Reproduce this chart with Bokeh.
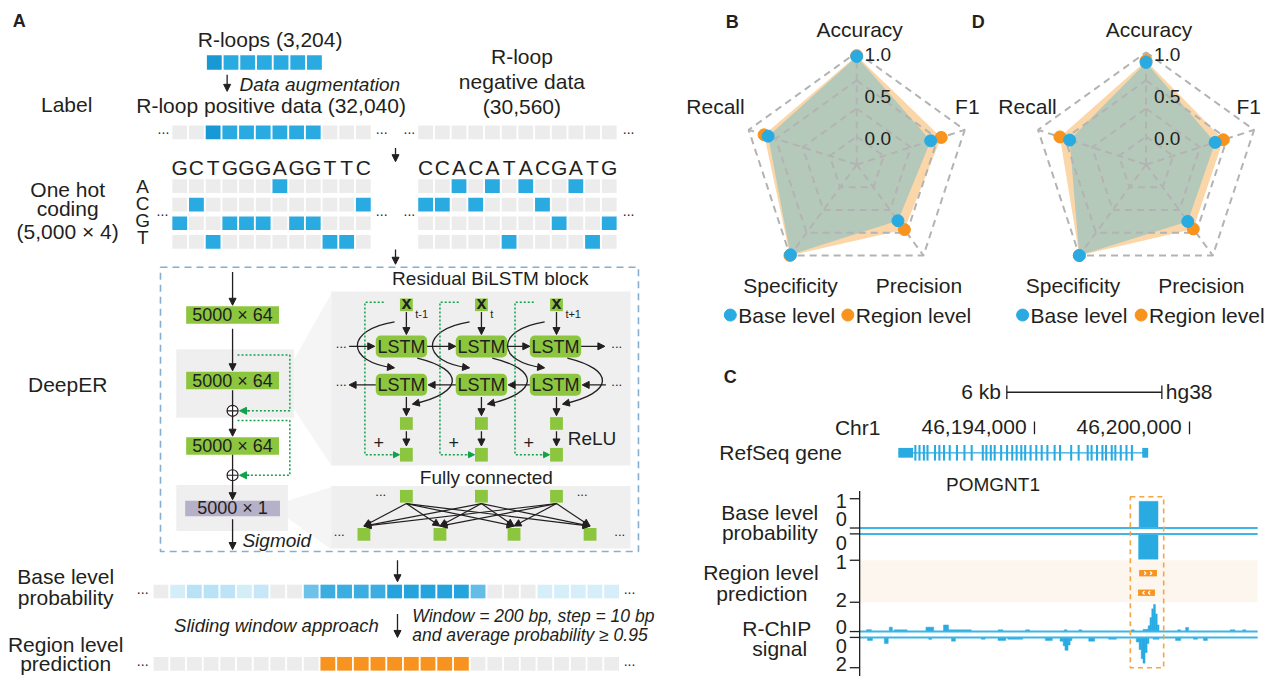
import numpy as np
from bokeh.plotting import figure
from bokeh.models import Range1d, Arrow, NormalHead, ColumnDataSource
from bokeh.core.properties import value
from bokeh.embed import file_html
from bokeh.resources import INLINE

# ======================= DATA =======================
rloop_n = 3204
pos_n = 32040
neg_n = 30560
rloop_row = [1, 1, 1, 1, 1, 1, 1]
pos_label = [0, 0, 1, 1, 1, 1, 1, 1, 1, 0, 0, 0]
neg_label = [0] * 12
pos_seq = "GCTGGGAGGTTC"
neg_seq = "CCACATACGATG"
bases = ["A", "C", "G", "T"]
layer_dims = ["5000 × 64", "5000 × 64", "5000 × 64", "5000 × 1"]
time_steps = ["t-1", "t", "t+1"]
base_prob = [0, .08, .22, .22, .2, .08, .15, 0, 0, .6, .85, .85, .85, .85,
             .97, .97, .97, .97, .97, .65, 0, 0, 0, .07, .07, .07, .07, .07]
region_pred = [0] * 10 + [1] * 9 + [0] * 9

metrics = ["Accuracy", "F1", "Precision", "Specificity", "Recall"]
b_base = [0.95, 0.58, 0.49, 0.99, 0.76]
b_region = [0.96, 0.71, 0.62, 1.00, 0.81]
d_base = [0.88, 0.52, 0.50, 1.00, 0.61]
d_region = [0.90, 0.62, 0.61, 1.00, 0.73]
radar_ticks = [0.0, 0.5, 1.0]

view_start, view_end = 46187235, 46202637
chr_ticks = [46194000, 46200000]
scale_start, scale_kb = 46192930, 6
gene_name = "POMGNT1"
gene_span = (46188730, 46198400)
gene_ends = [(46188730, 46189300), (46198170, 46198400)]
exon_mid = [46189390, 46189550, 46189720, 46189860, 46190150, 46190320, 46190500,
            46190720, 46191000, 46191290, 46191570, 46192000, 46192140, 46192310,
            46192460, 46192710, 46192940, 46193140, 46193310, 46193490, 46193640,
            46193850, 46194070, 46194280, 46194500, 46194780, 46194990, 46195420,
            46195710, 46196060, 46196210, 46196420, 46196630, 46196770, 46196990,
            46197130, 46197340, 46197560, 46197770]
prob_plus = [(46198050, 46198780, 0.91)]
prob_minus = [(46198030, 46198780, 0.96)]
pred_plus = [(46198050, 46198740)]
pred_minus = [(46198010, 46198660)]
highlight = (46197710, 46199000)
chip_plus = [
    (46187500, 46187690, 0.13), (46188380, 46188500, 0.30), (46188570, 46189070, 0.12),
    (46189800, 46190100, 0.30), (46190480, 46190670, 0.45), (46190670, 46191550, 0.12),
    (46192590, 46192780, 0.12), (46193660, 46193810, 0.12), (46195150, 46195260, 0.12),
    (46195720, 46195830, 0.12), (46197750, 46197860, 0.12), (46198200, 46198400, 0.15),
    (46198400, 46198470, 0.40), (46198470, 46198540, 0.95), (46198540, 46198610, 1.55),
    (46198610, 46198680, 1.85), (46198680, 46198750, 1.20), (46198750, 46198820, 0.45),
    (46199540, 46199660, 0.12), (46199850, 46199960, 0.28), (46201570, 46201760, 0.12),
    (46202060, 46202180, 0.12)]
chip_minus = [
    (46187540, 46187730, 0.20), (46188190, 46188340, 0.40), (46189910, 46190020, 0.13),
    (46190790, 46190940, 0.25), (46191940, 46192090, 0.12), (46192590, 46192890, 0.20),
    (46192970, 46193540, 0.12), (46194420, 46194690, 0.20), (46194990, 46195110, 0.25),
    (46195110, 46195180, 0.55), (46195180, 46195300, 0.85), (46195300, 46195380, 0.50),
    (46195380, 46195450, 0.20), (46196100, 46196330, 0.25), (46196870, 46197170, 0.12),
    (46197940, 46198050, 0.30), (46198050, 46198130, 0.80), (46198130, 46198200, 1.40),
    (46198200, 46198280, 1.70), (46198280, 46198360, 1.00), (46198360, 46198430, 0.40),
    (46198590, 46198820, 0.12), (46199460, 46199660, 0.20), (46200150, 46200310, 0.12),
    (46200540, 46200690, 0.20)]

# ======================= STYLE =======================
FONT = "Liberation Sans"
INK = "#231f20"
BLUE = "#29abe2"
DBLUE = "#1898d5"
ORANGE = "#f7931e"
SQGRAY = "#ececec"
GREEN = "#8cc63f"
DGREEN = "#12a14b"
PANEL = "#efefef"

XMAX, YMAX = 1285, 692
p = figure(width=1269, height=676, x_range=Range1d(0, XMAX), y_range=Range1d(YMAX, 0),
           toolbar_location=None, output_backend="svg", min_border=0)
p.axis.visible = False
p.grid.visible = False
p.outline_line_color = None


def T(x, y, s, size=21, align="center", style="normal", color=INK, baseline="middle"):
    p.text(x=[x], y=[y], text=[s], text_font=value(FONT), text_font_size=value(f"{size}px"),
           text_font_style=style, text_align=align, text_baseline=baseline, text_color=color)


def arrows(segs, color=INK, width=1.3, head=7):
    src = ColumnDataSource(dict(x0=[s[0] for s in segs], y0=[s[1] for s in segs],
                                x1=[s[2] for s in segs], y1=[s[3] for s in segs]))
    p.add_layout(Arrow(end=NormalHead(size=head, fill_color=color, line_color=color, line_width=1),
                       x_start="x0", y_start="y0", x_end="x1", y_end="y1", source=src,
                       line_color=color, line_width=width))


PITCH, SQ = 16.9, 15.0


def squares(x0, ytop, colors, h=14.0):
    xs = [x0 + i * PITCH for i in range(len(colors))]
    p.quad(left=xs, right=[x + SQ for x in xs], top=[ytop] * len(xs), bottom=[ytop + h] * len(xs),
           fill_color=colors, line_color=None)


def label_colors(row):
    out = []
    for i, v in enumerate(row):
        if v:
            out.append(DBLUE if (i == 0 or not row[i - 1]) else BLUE)
        else:
            out.append(SQGRAY)
    return out


def prob_color(v):
    if v == 0:
        return SQGRAY
    lo, hi = np.array([228, 244, 252]), np.array([30, 160, 220])
    c = lo + (hi - lo) * v
    return "#%02x%02x%02x" % tuple(int(round(t)) for t in c)


def dots(x, y, size=14):
    T(x, y - 3, "...", size=size, align="center")

# ======================= PANEL A =======================
T(19, 21, "A", size=18, style="bold")
T(273, 40, f"R-loops ({rloop_n:,})")
squares(209, 56, label_colors(rloop_row), h=15)
arrows([(229.5, 76, 229.5, 93)])
T(242, 86, "Data augmentation", size=19, align="left", style="italic")
T(67, 106, "Label")
T(274, 107, f"R-loop positive data ({pos_n:,})")
T(528, 57, "R-loop")
T(528, 83, "negative data")
T(528, 108, f"({neg_n:,})")

POS_X0, NEG_X0 = 174, 423
squares(POS_X0, 128, label_colors(pos_label))
squares(NEG_X0, 128, label_colors(neg_label))
for xx in (165, 386, 414, 636):
    dots(xx, 135)
arrows([(400, 151, 400, 165)])

for x0, seq in ((POS_X0, pos_seq), (NEG_X0, neg_seq)):
    for i, ch in enumerate(seq):
        T(x0 + i * PITCH + SQ / 2, 171, ch, size=21)
    for r, b in enumerate(bases):
        squares(x0, 183 + 19 * r, [BLUE if ch == b else SQGRAY for ch in seq])
for b, yy in zip(bases, (190, 207.5, 225, 243)):
    T(144, yy, b, size=19)
for xx in (164, 386, 414, 636):
    dots(xx, 218)
T(68, 193, "One hot")
T(68, 213, "coding")
T(68, 236, "(5,000 × 4)")
arrows([(400, 255, 400, 270)])

# ---- DeepER box ----
T(68, 393, "DeepER")
p.patch([297, 335, 335, 297], [368, 300, 476, 418], fill_color="#e2e2e2", fill_alpha=0.35, line_color=None)
p.patch([291, 335, 335, 291], [512, 498, 562, 530], fill_color="#e2e2e2", fill_alpha=0.35, line_color=None)
p.quad(left=[178], right=[297], top=[357], bottom=[427], fill_color=PANEL, line_color=None)
p.quad(left=[178], right=[291], top=[496], bottom=[543], fill_color=PANEL, line_color=None)
p.quad(left=[335], right=[638], top=[298], bottom=[476], fill_color=PANEL, line_color=None)
p.quad(left=[335], right=[638], top=[497], bottom=[561], fill_color=PANEL, line_color=None)
p.quad(left=[162], right=[646], top=[273], bottom=[564], fill_color=None,
       line_color="#86aed0", line_dash="7 5", line_width=1.6)

COLX = 235
box_tops = [313, 380, 447, 512]
for k, (yt, dim) in enumerate(zip(box_tops, layer_dims)):
    last = k == len(layer_dims) - 1
    p.quad(left=[188 if not last else 187], right=[282 if not last else 283], top=[yt],
           bottom=[yt + (18 if not last else 16)], fill_color="#b6b1c9" if last else GREEN,
           line_color=None)
    T(COLX, yt + (9 if not last else 8), dim, size=18)
arrows([(COLX, 278, COLX, 312), (COLX, 336, COLX, 379), (COLX, 425, COLX, 446),
        (COLX, 491, COLX, 511), (COLX, 531, COLX, 562)])
p.segment(x0=[COLX, COLX], y0=[399, 465], x1=[COLX, COLX], y1=[415, 481], line_color=INK, line_width=1.3)
p.scatter([COLX, COLX], [420, 486], marker="circle_cross", size=11, fill_color="white",
          line_color=INK, line_width=1.2)
for ya, yb in ((363, 420), (430, 486)):
    p.line([240, 293, 293, 250], [ya, ya, yb, yb], line_color=DGREEN, line_dash="2 2", line_width=1.5)
    arrows([(252, yb, 242, yb)], color=DGREEN, head=7)
T(245, 553, "Sigmoid", size=19, align="left", style="italic")

# ---- Residual BiLSTM block ----
T(496, 285, "Residual BiLSTM block", size=19)
cxn = [411, 487, 563]
cxb = [406, 487, 562]
p.rect(cxn, [311.5] * 3, 13, 13, fill_color=GREEN, line_color=None)
for c, ts in zip(cxn, time_steps):
    T(c, 310, "x", size=18, style="bold")
    T(c + 9, 321, ts, size=11, align="left")
for row_top in (343, 382):
    p.quad(left=[c - 26 for c in cxb], right=[c + 26 for c in cxb], top=[row_top] * 3,
           bottom=[row_top + 22.5] * 3, fill_color=GREEN, line_color=None, border_radius=5)
    for c in cxb:
        T(c, row_top + 11.5, "LSTM", size=18)
segs = [(c, 319, c, 342) for c in cxn]
segs += [(353, 354, 379, 354), (432, 354, 461, 354), (513, 354, 536, 354), (588, 354, 612, 354)]
segs += [(380, 393.5, 353, 393.5), (461, 393.5, 433, 393.5), (536, 393.5, 514, 393.5), (613, 393.5, 589, 393.5)]
segs += [(c, 406, c, 425) for c in cxn] + [(c, 441, c, 456) for c in cxn]
arrows(segs, head=7)
for xx, yy in ((345, 354), (345, 393.5), (624, 354), (624, 393.5)):
    dots(xx, yy, 13)
# curved connections
p.bezier(x0=[c - 12 for c in cxn], y0=[329] * 3, x1=[c - 13 for c in cxn], y1=[376] * 3,
         cx0=[c - 62 for c in cxn], cy0=[337] * 3, cx1=[c - 62 for c in cxn], cy1=[370] * 3,
         line_color=INK, line_width=1.3)
p.bezier(x0=[c + 11 for c in cxn], y0=[366] * 3, x1=[c + 7 for c in cxn], y1=[413] * 3,
         cx0=[c + 60 for c in cxn], cy0=[378] * 3, cx1=[c + 58 for c in cxn], cy1=[402] * 3,
         line_color=INK, line_width=1.3)
arrows([(c - 17, 375.4, c - 12, 376) for c in cxn] + [(c + 12, 411.9, c + 6, 413.2) for c in cxn], head=7)
p.rect(cxn, [433] * 3, 13, 13, fill_color=GREEN, line_color=None)
p.rect(cxn, [465] * 3, 13, 14, fill_color=GREEN, line_color=None)
for c in cxn:
    T(c - 28, 452, "+", size=18)
    p.line([c - 23, c - 42, c - 42, c - 12], [309, 309, 465, 465], line_color=DGREEN,
           line_dash="2 2", line_width=1.5)
arrows([(c - 14, 465, c - 7, 465) for c in cxn], color=DGREEN, head=6)
T(599, 448, "ReLU", size=19)

# ---- Fully connected ----
T(492, 488, "Fully connected", size=19)
fc_bottom = [368, 445, 520, 597]
p.rect(cxn, [507.5] * 3, 13, 13, fill_color=GREEN, line_color=None)
p.rect(fc_bottom, [546.5] * 4, 13, 13, fill_color=GREEN, line_color=None)
arrows([(xt, 515, xb, 538) for xt in cxn for xb in fc_bottom], head=7, width=1.2)
for xx, yy in ((385, 506), (589, 506), (343, 547), (627, 547)):
    dots(xx, yy, 13)

# ---- Base / region level rows ----
arrows([(402, 573, 402, 595)])
T(66, 590, "Base level")
T(66, 611, "probability")
squares(155, 598, [prob_color(v) for v in base_prob])
dots(144, 605)
dots(637, 605)
arrows([(402, 628, 402, 652)])
T(383, 640, "Sliding window approach", size=18.5, align="right", style="italic")
T(417, 630, "Window = 200 bp, step = 10 bp", size=17.5, align="left", style="italic")
T(417, 650, "and average probability ≥ 0.95", size=17.5, align="left", style="italic")
T(66, 659, "Region level")
T(66, 679, "prediction")
squares(155, 672, [ORANGE if v else SQGRAY for v in region_pred])
dots(144, 679)
dots(637, 679)

# ======================= PANELS B & D (radar) =======================
ANG = np.deg2rad([90 - 72 * k for k in range(5)])


def rfrac(v):
    return 0.25 + 0.75 * np.asarray(v, dtype=float)


def radar(cx, cy, R, base, region, lab_xy, leg_x):
    def xy(fr):
        fr = np.asarray(fr, dtype=float)
        return list(cx + fr * R * np.cos(ANG)), list(cy - fr * R * np.sin(ANG))
    xr, yr = xy(rfrac(region))
    p.patch(xr, yr, fill_color="#fad6a9", line_color=None)
    xb, yb = xy(rfrac(base))
    p.patch(xb, yb, fill_color="#b5c9bb", line_color=None)
    for fr in (0.25, 0.5, 0.75, 1.0):
        gx, gy = xy([fr] * 5)
        p.line(gx + gx[:1], gy + gy[:1], line_color="#b3b3b3", line_dash="7 5", line_width=2)
    ox, oy = xy([1.0] * 5)
    p.multi_line([[cx, x] for x in ox], [[cy, y] for y in oy], line_color="#b3b3b3",
                 line_dash="7 5", line_width=2)
    p.scatter(xr, yr, size=12, fill_color=ORANGE, line_color=ORANGE)
    p.scatter(xb, yb, size=12, fill_color=BLUE, line_color=BLUE)
    for t in radar_ticks:
        T(cx + 8, cy - R * rfrac(t) + 2, f"{t:.1f}", size=19, align="left")
    for m, (lx, ly) in zip(metrics, lab_xy):
        T(lx, ly, m)
    p.scatter([leg_x[0], leg_x[1]], [322, 322], size=12, fill_color=[BLUE, ORANGE],
              line_color=[BLUE, ORANGE])
    T(leg_x[0] + 8, 322, "Base level", align="left")
    T(leg_x[1] + 8, 322, "Region level", align="left")


T(741, 22, "B", size=18, style="bold")
radar(867, 168, 115, b_base, b_region,
      [(870, 30), (979, 108), (930, 292), (800, 292), (724, 108)], (739, 858))
T(990, 22, "D", size=18, style="bold")
radar(1160, 168, 115, d_base, d_region,
      [(1163, 30), (1264, 108), (1216, 292), (1086, 292), (1040, 108)], (1035, 1155))

# ======================= PANEL C (genome browser) =======================
TL, TR = 870, 1273
bpp = (view_end - view_start) / (TR - TL)
p.extra_x_ranges["g"] = Range1d(view_start - TL * bpp, view_start + (XMAX - TL) * bpp)


def yr(px0, ppu, up=True):
    f = (lambda px: (px0 - px) / ppu) if up else (lambda px: (px - px0) / ppu)
    return Range1d(start=f(YMAX), end=f(0))


tracks = {"pp": (540, 30, True), "pm": (546, 27, False), "cp": (646, 15, True), "cm": (652, 15.5, False)}
for k, (b0, ppu, up) in tracks.items():
    p.extra_y_ranges[k] = yr(b0, ppu, up)

T(739, 385, "C", size=18, style="bold")
# scale bar
sb0, sb1 = scale_start, scale_start + scale_kb * 1000
p.segment(x0=[sb0, sb0, sb1], y0=[401, 394, 394], x1=[sb1, sb0, sb1], y1=[401, 408, 408],
          line_color=INK, line_width=1.3, x_range_name="g")
T(1013, 400, f"{scale_kb} kb", align="right")
T(1180, 400, "hg38", align="left")
# coordinates
T(868, 437, "Chr1", align="center")
p.segment(x0=chr_ticks, y0=[431] * 2, x1=chr_ticks, y1=[444] * 2, line_color=INK, line_width=1.3,
          x_range_name="g")
tick_px = [TL + (t - view_start) / bpp for t in chr_ticks]
for t, tp in zip(chr_ticks, tick_px):
    T(tp - 8, 437, f"{t:,}", align="right")
# gene
T(790, 463, "RefSeq gene")
p.segment(x0=[gene_span[0]], y0=[463], x1=[gene_span[1]], y1=[463], line_color=BLUE, line_width=1.2,
          x_range_name="g")
p.quad(left=[a for a, b in gene_ends], right=[b for a, b in gene_ends], top=[458] * 2, bottom=[468] * 2,
       fill_color=BLUE, line_color=None, x_range_name="g")
p.quad(left=[m - 40 for m in exon_mid], right=[m + 40 for m in exon_mid], top=[455] * len(exon_mid),
       bottom=[471] * len(exon_mid), fill_color=BLUE, line_color=None, x_range_name="g")
T(1005, 495, gene_name, size=19)

# region track background
p.quad(left=[view_start], right=[view_end], top=[573], bottom=[616], fill_color="#fdf6ee",
       line_color=None, x_range_name="g")
# signals
for key, data in (("pp", prob_plus), ("pm", prob_minus), ("cp", chip_plus), ("cm", chip_minus)):
    p.quad(left=[d[0] for d in data], right=[d[1] for d in data], top=[d[2] for d in data],
           bottom=[0] * len(data), fill_color=BLUE, line_color=BLUE, line_width=0.5,
           x_range_name="g", y_range_name=key)
for key in tracks:
    p.segment(x0=[view_start], y0=[0], x1=[view_end], y1=[0], line_color="#3db5e6", line_width=2,
              x_range_name="g", y_range_name=key)
# region level predictions
for data, yt in ((pred_plus, 583), (pred_minus, 603)):
    p.quad(left=[d[0] for d in data], right=[d[1] for d in data], top=[yt] * len(data),
           bottom=[yt + 6.5] * len(data), fill_color=ORANGE, line_color=None, x_range_name="g")
    for a, b in data:
        step = (b - a) / 3
        for k in (1, 2):
            c = a + k * step
            xs = [c - 35, c + 35, c - 35] if yt == 583 else [c + 35, c - 35, c + 35]
            p.line(xs, [yt + 1.5, yt + 3.25, yt + 5], line_color="white", line_width=1.2,
                   x_range_name="g")
# highlight box
p.quad(left=[highlight[0]], right=[highlight[1]], top=[508], bottom=[683], fill_color=None,
       line_color="#f7a541", line_dash="5 4", line_width=1.6, x_range_name="g")
# axis
p.segment(x0=[TL], y0=[502], x1=[TL], y1=[692], line_color=INK, line_width=1.3)
ticks = [(510, "1", 512), (540, "0", 531), (546, "0", 555), (573, "1", 575), (616, "2", 614),
         (646, "0", 641), (652, "0", 661), (683, "2", 679)]
p.segment(x0=[TL - 10] * len(ticks), y0=[t[0] for t in ticks], x1=[TL] * len(ticks),
          y1=[t[0] for t in ticks], line_color=INK, line_width=1.3)
for ty, s, ly in ticks:
    T(857, ly, s, size=20, align="right")
T(779, 524, "Base level")
T(779, 545, "probability")
T(770, 586, "Region level")
T(771, 607, "prediction")
T(786, 643, "R-ChIP")
T(789, 663, "signal")

open("out.html", "w").write(file_html(p, INLINE))
